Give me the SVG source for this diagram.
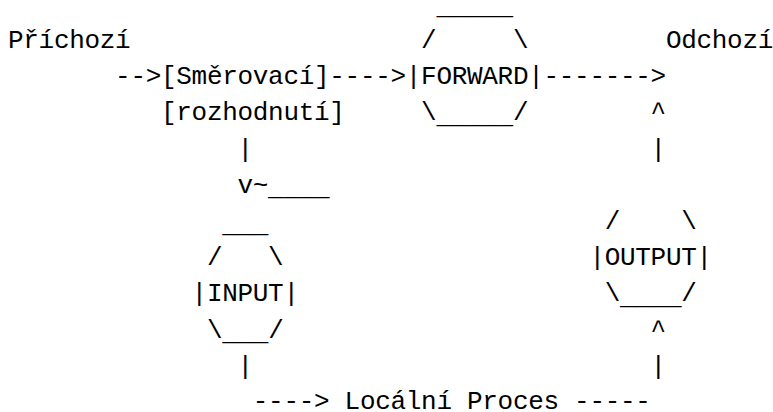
<svg xmlns="http://www.w3.org/2000/svg" width="773" height="412" viewBox="0 0 773 412">
  <style>
    text { font-family: "Liberation Mono", "DejaVu Sans Mono", monospace; font-size: 26px; letter-spacing: -0.3px; fill: #000; white-space: pre; }
  </style>
  <rect width="773" height="412" fill="#fff"/>

  <!-- character grid: column c at x = 8 + 15.3c, row n baseline at y = 11.8 + 36.2n;
       underscore runs sit 2.5px lower than the row baseline -->

  <g id="connectors">
    <text x="115.1" y="84.2">--&gt;</text>
    <text x="329.3" y="84.2">----&gt;</text>
    <text x="543.5" y="84.2">-------&gt;</text>
    <text x="650.6" y="120.4">^</text>
    <text x="237.5" y="156.6">|</text>
    <text x="650.6" y="156.6">|</text>
    <text x="237.5" y="192.8">v~<tspan dy="2.5">____</tspan></text>
    <text x="650.6" y="337.6">^</text>
    <text x="237.5" y="373.8">|</text>
    <text x="650.6" y="373.8">|</text>
    <text x="252.8" y="409">----&gt;</text>
    <text x="574.1" y="409">-----</text>
  </g>

  <g id="prichozi">
    <text x="8" y="48">Příchozí</text>
  </g>

  <g id="smerovaci-rozhodnuti">
    <text x="161" y="84.2">[Směrovací]</text>
    <text x="161" y="120.4">[rozhodnutí]</text>
  </g>

  <g id="forward">
    <text x="436.4" y="14.3">_____</text>
    <text x="421.1" y="48">/     \</text>
    <text x="405.8" y="84.2">|FORWARD|</text>
    <text x="421.1" y="120.4">\<tspan dy="2.5">_____</tspan><tspan dy="-2.5">/</tspan></text>
  </g>

  <g id="odchozi">
    <text x="665.9" y="48">Odchozí</text>
  </g>

  <g id="input">
    <text x="222.2" y="231.5">___</text>
    <text x="206.9" y="265.2">/   \</text>
    <text x="191.6" y="301.4">|INPUT|</text>
    <text x="206.9" y="337.6">\<tspan dy="2.5">___</tspan><tspan dy="-2.5">/</tspan></text>
  </g>

  <g id="output">
    <text x="604.7" y="229">/    \</text>
    <text x="589.4" y="265.2">|OUTPUT|</text>
    <text x="604.7" y="301.4">\<tspan dy="2.5">____</tspan><tspan dy="-2.5">/</tspan></text>
  </g>

  <g id="lokalni-proces">
    <text x="344.6" y="409">Locální Proces</text>
  </g>
</svg>
